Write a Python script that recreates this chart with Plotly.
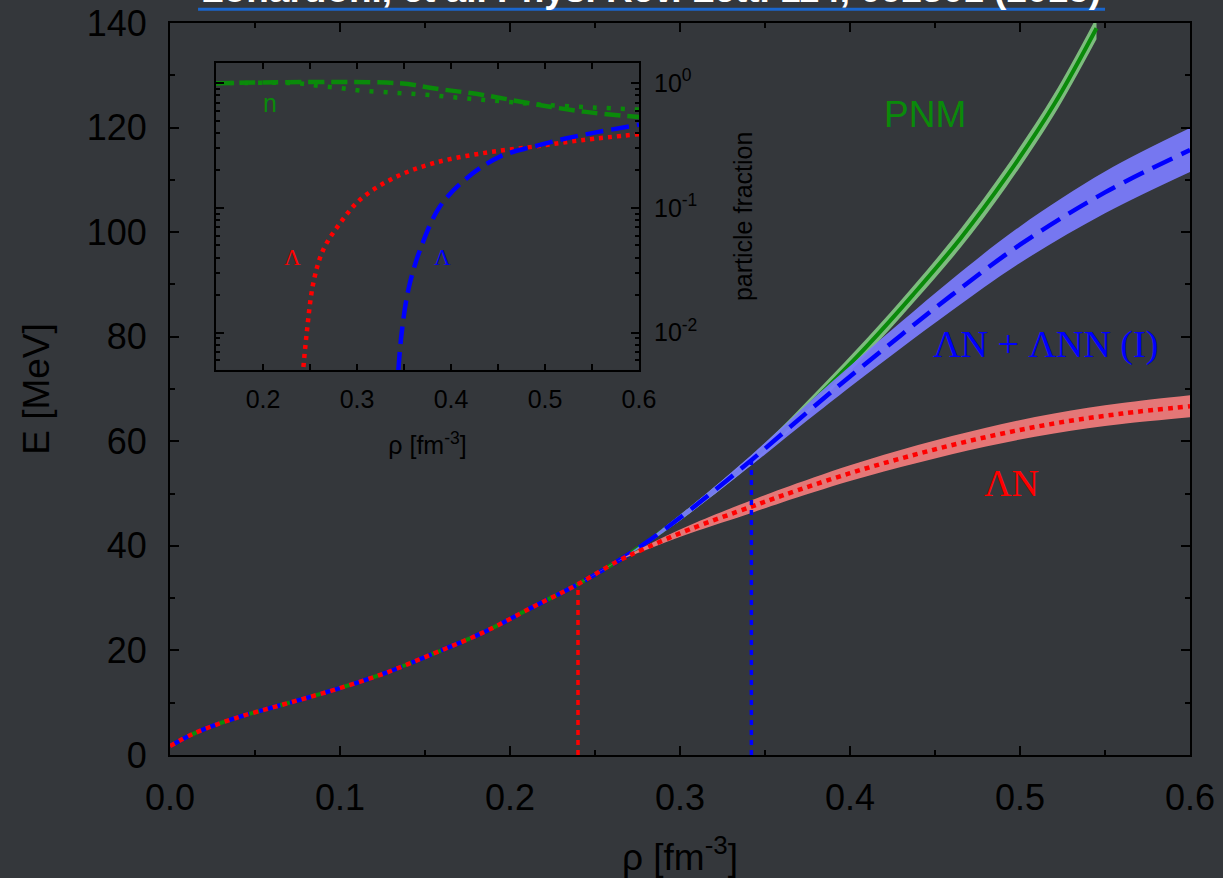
import plotly.graph_objects as go

# ---------------- main panel data (E vs rho) ----------------
rho_common = [0.0, 0.014, 0.037, 0.067, 0.096, 0.126, 0.155, 0.184, 0.214, 0.239, 0.263]
E_common = [1.7, 4.1, 6.9, 9.7, 12.4, 15.6, 19.4, 23.4, 28.4, 32.5, 37.0]

rho_pnm = rho_common + [0.28, 0.306, 0.342, 0.36, 0.382, 0.41, 0.437, 0.465, 0.492, 0.52, 0.545]
E_pnm = E_common + [40.6, 46.9, 56.4, 61.7, 68.8, 78.2, 88.0, 98.8, 110.6, 124.4, 139.0]
hw_pnm = [0] * len(rho_common) + [0.3, 0.6, 0.9, 1.1, 1.3, 1.5, 1.6, 1.8, 1.9, 2.0, 2.1]

rho_lnn = rho_common + [0.28, 0.306, 0.342, 0.375, 0.40, 0.43, 0.46, 0.50, 0.55, 0.60]
E_lnn = E_common + [40.6, 46.9, 56.4, 65.6, 72.4, 80.3, 88.0, 97.6, 107.6, 115.7]
hw_lnn = [0] * len(rho_common) + [0.3, 0.6, 1.0, 1.6, 2.0, 2.5, 3.0, 3.5, 4.0, 4.2]

rho_ln = rho_common + [0.28, 0.306, 0.342, 0.36, 0.40, 0.44, 0.48, 0.52, 0.56, 0.60]
E_ln = E_common + [39.6, 43.2, 47.5, 49.6, 53.9, 57.6, 60.8, 63.4, 65.3, 66.7]
hw_ln = [0] * len(rho_common) + [0.4, 0.8, 1.2, 1.3, 1.5, 1.7, 1.8, 1.9, 2.0, 2.1]

# Lambda onset densities and energies at onset
rho_onset_ln, E_onset_ln = 0.240, 32.6
rho_onset_lnn, E_onset_lnn = 0.342, 56.4

# ---------------- inset data (particle fractions) ----------------
rho_lam_ln = [0.243, 0.2465, 0.2535, 0.264, 0.282, 0.303, 0.3386, 0.381, 0.434, 0.4876, 0.541, 0.60]
f_lam_ln = [0.0053, 0.0099, 0.0249, 0.046, 0.0754, 0.116, 0.173, 0.228, 0.275, 0.31, 0.351, 0.39]

rho_lam_lnn = [0.344, 0.3475, 0.3546, 0.367, 0.388, 0.4167, 0.452, 0.4876, 0.523, 0.5585, 0.60]
f_lam_lnn = [0.005, 0.0099, 0.022, 0.046, 0.102, 0.173, 0.258, 0.31, 0.362, 0.409, 0.465]

rho_n_lnn = [0.15, 0.3447, 0.381, 0.434, 0.4876, 0.541, 0.60]
f_n_lnn = [1.0, 1.0, 0.912, 0.806, 0.682, 0.592, 0.535]

rho_n_ln = [0.15, 0.24, 0.26, 0.28, 0.30, 0.34, 0.38, 0.42, 0.46, 0.50, 0.55, 0.60]
f_n_ln = [1.0, 0.995, 0.95, 0.92, 0.88, 0.84, 0.80, 0.75, 0.71, 0.67, 0.64, 0.615]

BG = "#34373b"
GREEN = "#0a8a0a"
BLUE = "#0000ff"
RED = "#ff0000"
TXT = "#000000"

fig = go.Figure()


def band(x, y, hw, fillcolor):
    upper = [a + b for a, b in zip(y, hw)]
    lower = [a - b for a, b in zip(y, hw)]
    fig.add_trace(go.Scatter(x=x, y=upper, mode="lines", line=dict(width=0), hoverinfo="skip",
                             showlegend=False, line_shape="spline"))
    fig.add_trace(go.Scatter(x=x, y=lower, mode="lines", line=dict(width=0), fill="tonexty",
                             fillcolor=fillcolor, hoverinfo="skip", showlegend=False, line_shape="spline"))


# PNM
band(rho_pnm, E_pnm, hw_pnm, "rgba(130,195,130,0.95)")
fig.add_trace(go.Scatter(x=rho_pnm, y=E_pnm, mode="lines", line=dict(color=GREEN, width=4),
                         line_shape="spline", showlegend=False))
# LN + LNN
band(rho_lnn, E_lnn, hw_lnn, "rgba(122,122,250,0.95)")
fig.add_trace(go.Scatter(x=rho_lnn, y=E_lnn, mode="lines", line=dict(color=BLUE, width=4.5, dash="22px,10px"),
                         line_shape="spline", showlegend=False))
# LN
band(rho_ln, E_ln, hw_ln, "rgba(238,122,122,0.95)")
fig.add_trace(go.Scatter(x=rho_ln, y=E_ln, mode="lines", line=dict(color=RED, width=4.5, dash="5px,5px"),
                         line_shape="spline", showlegend=False))

# onset vertical lines
fig.add_trace(go.Scatter(x=[rho_onset_ln, rho_onset_ln], y=[0, E_onset_ln], mode="lines",
                         line=dict(color=RED, width=3.5, dash="5px,5px"), showlegend=False))
fig.add_trace(go.Scatter(x=[rho_onset_lnn, rho_onset_lnn], y=[0, E_onset_lnn], mode="lines",
                         line=dict(color=BLUE, width=3.5, dash="5px,5px"), showlegend=False))

# inset traces
fig.add_trace(go.Scatter(x=rho_n_lnn, y=f_n_lnn, xaxis="x2", yaxis="y2", mode="lines",
                         line=dict(color=GREEN, width=4.5, dash="16px,7px"), line_shape="spline", showlegend=False))
fig.add_trace(go.Scatter(x=rho_n_ln, y=f_n_ln, xaxis="x2", yaxis="y2", mode="lines",
                         line=dict(color=GREEN, width=4.5, dash="4px,10px"), line_shape="spline", showlegend=False))
fig.add_trace(go.Scatter(x=rho_lam_ln, y=f_lam_ln, xaxis="x2", yaxis="y2", mode="lines",
                         line=dict(color=RED, width=4.5, dash="4px,5px"), line_shape="spline", showlegend=False))
fig.add_trace(go.Scatter(x=rho_lam_lnn, y=f_lam_lnn, xaxis="x2", yaxis="y2", mode="lines",
                         line=dict(color=BLUE, width=4.5, dash="18px,8px"), line_shape="spline", showlegend=False))

FONT = "Liberation Sans, Arial, sans-serif"
SERIF = "Liberation Serif, Times New Roman, serif"

ax_common = dict(showline=True, linecolor="black", linewidth=2, mirror="ticks", ticks="inside",
                 tickcolor="black", tickwidth=1.5, showgrid=False, zeroline=False, automargin=False)

fig.update_layout(
    width=1223, height=878,
    paper_bgcolor=BG, plot_bgcolor=BG,
    margin=dict(l=170, r=33, t=23, b=123, autoexpand=False),
    font=dict(family=FONT, color=TXT),
    xaxis=dict(range=[0, 0.6], dtick=0.1, tickformat=".1f", ticklen=9, ticklabelstandoff=10,
               tickfont=dict(size=36, color=TXT),
               minor=dict(dtick=0.05, ticks="inside", ticklen=5, tickcolor="black"),
               title=dict(text="ρ [fm<sup>-3</sup>]", font=dict(size=37, color=TXT), standoff=27),
               **ax_common),
    yaxis=dict(range=[0, 140], dtick=20, ticklen=9, ticklabelstandoff=14,
               tickfont=dict(size=36, color=TXT),
               minor=dict(dtick=10, ticks="inside", ticklen=5, tickcolor="black"),
               title=dict(text="E [MeV]", font=dict(size=37, color=TXT), standoff=26),
               **ax_common),
    xaxis2=dict(domain=[0.0451, 0.4598], anchor="y2", range=[0.15, 0.6], dtick=0.1, tickformat=".1f",
                ticklen=6, ticklabelstandoff=6, tickfont=dict(size=25, color=TXT),
                minor=dict(dtick=0.05, ticks="inside", ticklen=6, tickcolor="black"),
                title=dict(text="ρ [fm<sup>-3</sup>]", font=dict(size=25, color=TXT), standoff=25),
                **ax_common),
    yaxis2=dict(domain=[0.526, 0.9458], anchor="x2", side="right", type="log", range=[-2.3, 0.165],
                tickvals=[0.01, 0.1, 1], ticktext=["10<sup>-2</sup>", "10<sup>-1</sup>", "10<sup>0</sup>"],
                ticklen=8, ticklabelstandoff=8, tickfont=dict(size=25, color=TXT),
                minor=dict(tickvals=[0.006, 0.007, 0.008, 0.009, 0.02, 0.03, 0.04, 0.05, 0.06, 0.07, 0.08, 0.09,
                                     0.2, 0.3, 0.4, 0.5, 0.6, 0.7, 0.8, 0.9],
                           ticks="inside", ticklen=4, tickcolor="black"),
                title=dict(text="particle fraction", font=dict(size=25, color=TXT), standoff=38),
                **ax_common),
)

annos = [
    dict(text="PNM", x=0.444, y=122.5, font=dict(family=FONT, size=37, color=GREEN)),
    dict(text="ΛN + ΛNN (I)", x=0.515, y=78.5, font=dict(family=SERIF, size=38, color=BLUE)),
    dict(text="ΛN", x=0.495, y=52.0, font=dict(family=SERIF, size=38, color=RED)),
]
for a in annos:
    fig.add_annotation(xref="x", yref="y", showarrow=False, **a)

# log axis: annotation y given as log10 of the fraction
fig.add_annotation(xref="x2", yref="y2", x=0.207, y=-0.16, text="n", showarrow=False,
                   font=dict(family=FONT, size=25, color=GREEN))
fig.add_annotation(xref="x2", yref="y2", x=0.231, y=-1.40, text="Λ", showarrow=False,
                   font=dict(family=SERIF, size=23, color=RED))
fig.add_annotation(xref="x2", yref="y2", x=0.391, y=-1.40, text="Λ", showarrow=False,
                   font=dict(family=SERIF, size=23, color=BLUE))

# cut-off title at top
fig.add_annotation(xref="paper", yref="paper", x=0.472, y=1.0455, yanchor="middle", showarrow=False,
                   text="<b>Lonardoni, et al. Phys. Rev. Lett. 114, 092301 (2015)</b>",
                   font=dict(family=FONT, size=37, color="white"))
fig.add_shape(type="line", xref="paper", yref="paper", x0=0.0275, x1=0.9167, y0=1.0187, y1=1.0187,
              line=dict(color="#1a66cc", width=3))

fig.write_html("out.html")
